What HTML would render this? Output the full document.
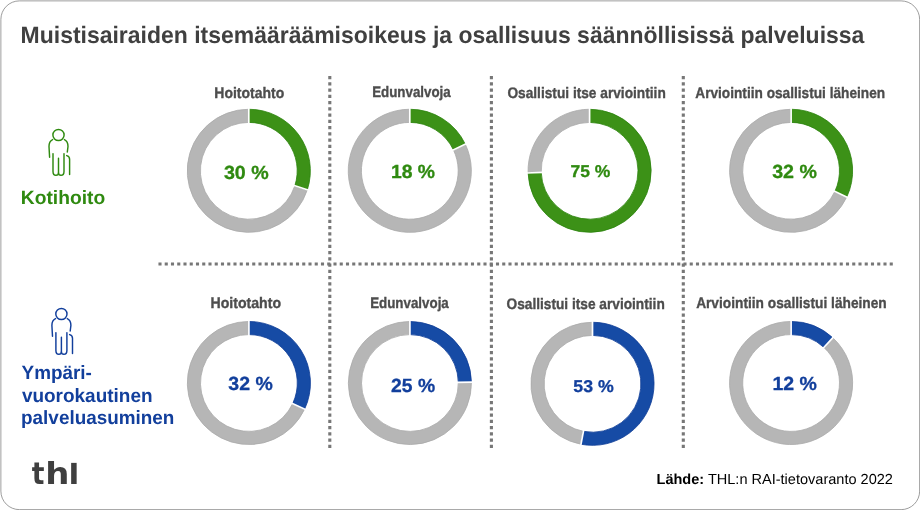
<!DOCTYPE html>
<html lang="fi"><head><meta charset="utf-8"><title>Muistisairaiden itsemääräämisoikeus ja osallisuus</title>
<style>
html,body{margin:0;padding:0;background:#fff;}
body{width:920px;height:510px;overflow:hidden;position:relative;}
svg{display:block;position:absolute;left:0;top:0;}
text{font-family:"Liberation Sans",sans-serif;text-rendering:geometricPrecision;}
</style></head><body>
<svg width="920" height="510" viewBox="0 0 920 510">
<rect x="0" y="0" width="920" height="510" fill="#fff"/>
<rect x="0.885" y="0.885" width="918.74" height="508.74" rx="18.5" ry="18.5" fill="#fff" stroke="#808080" stroke-width="0.77"/>

<text id="title" x="20.61" y="42.8" font-size="23.7" fill="#404040" font-weight="bold" textLength="843.74" lengthAdjust="spacingAndGlyphs">Muistisairaiden itsemääräämisoikeus ja osallisuus säännöllisissä palveluissa</text>
<path d="M329.8,76.1V448.5" stroke="#777" stroke-width="3.1" stroke-dasharray="3.1 3.15" fill="none"/>
<path d="M491.4,76.1V448.5" stroke="#777" stroke-width="3.1" stroke-dasharray="3.1 3.15" fill="none"/>
<path d="M683.3,76.1V448.5" stroke="#777" stroke-width="3.1" stroke-dasharray="3.1 3.15" fill="none"/>
<path d="M158.45,264H893" stroke="#777" stroke-width="3.1" stroke-dasharray="3.1 3.15" fill="none"/>
<path d="M307.34,189.82A61.55,61.55 0 1 1 248.80,109.25L248.80,122.40A48.4,48.4 0 1 0 294.83,185.76Z" fill="#b6b6b6" stroke="#aaaaaa" stroke-width="0.8"/><path d="M248.80,109.25A61.55,61.55 0 0 1 307.34,189.82L294.83,185.76A48.4,48.4 0 0 0 248.80,122.40Z" fill="#3c9117" stroke="#29830b" stroke-width="0.8"/><path d="M248.80,123.90L248.80,107.75M293.40,185.29L308.76,190.28" stroke="#fff" stroke-width="1.7" fill="none"/>
<path d="M465.33,144.24A61.55,61.55 0 1 1 409.80,109.25L409.80,122.40A48.4,48.4 0 1 0 453.46,149.92Z" fill="#b6b6b6" stroke="#aaaaaa" stroke-width="0.8"/><path d="M409.80,109.25A61.55,61.55 0 0 1 465.33,144.24L453.46,149.92A48.4,48.4 0 0 0 409.80,122.40Z" fill="#3c9117" stroke="#29830b" stroke-width="0.8"/><path d="M409.80,123.90L409.80,107.75M452.11,150.56L466.68,143.60" stroke="#fff" stroke-width="1.7" fill="none"/>
<path d="M528.09,172.93A61.55,61.55 0 0 1 589.60,109.25L589.60,122.40A48.4,48.4 0 0 0 541.23,172.47Z" fill="#b6b6b6" stroke="#aaaaaa" stroke-width="0.8"/><path d="M589.60,109.25A61.55,61.55 0 1 1 528.09,172.93L541.23,172.47A48.4,48.4 0 1 0 589.60,122.40Z" fill="#3c9117" stroke="#29830b" stroke-width="0.8"/><path d="M589.60,123.90L589.60,107.75M542.73,172.42L526.59,172.98" stroke="#fff" stroke-width="1.7" fill="none"/>
<path d="M846.79,197.01A61.55,61.55 0 1 1 791.10,109.25L791.10,122.40A48.4,48.4 0 1 0 834.89,191.41Z" fill="#b6b6b6" stroke="#aaaaaa" stroke-width="0.8"/><path d="M791.10,109.25A61.55,61.55 0 0 1 846.79,197.01L834.89,191.41A48.4,48.4 0 0 0 791.10,122.40Z" fill="#3c9117" stroke="#29830b" stroke-width="0.8"/><path d="M791.10,123.90L791.10,107.75M833.54,190.77L848.15,197.65" stroke="#fff" stroke-width="1.7" fill="none"/>
<path d="M304.59,409.21A61.55,61.55 0 1 1 248.90,321.45L248.90,334.60A48.4,48.4 0 1 0 292.69,403.61Z" fill="#b6b6b6" stroke="#aaaaaa" stroke-width="0.8"/><path d="M248.90,321.45A61.55,61.55 0 0 1 304.59,409.21L292.69,403.61A48.4,48.4 0 0 0 248.90,334.60Z" fill="#164ba5" stroke="#0c3b96" stroke-width="0.8"/><path d="M248.90,336.10L248.90,319.95M291.34,402.97L305.95,409.85" stroke="#fff" stroke-width="1.7" fill="none"/>
<path d="M471.45,382.23A61.55,61.55 0 1 1 409.90,321.45L409.90,334.60A48.4,48.4 0 1 0 458.30,382.39Z" fill="#b6b6b6" stroke="#aaaaaa" stroke-width="0.8"/><path d="M409.90,321.45A61.55,61.55 0 0 1 471.45,382.23L458.30,382.39A48.4,48.4 0 0 0 409.90,334.60Z" fill="#164ba5" stroke="#0c3b96" stroke-width="0.8"/><path d="M409.90,336.10L409.90,319.95M456.80,382.41L472.95,382.21" stroke="#fff" stroke-width="1.7" fill="none"/>
<path d="M580.97,444.26A61.55,61.55 0 0 1 592.50,322.25L592.50,335.40A48.4,48.4 0 0 0 583.43,431.34Z" fill="#b6b6b6" stroke="#aaaaaa" stroke-width="0.8"/><path d="M592.50,322.25A61.55,61.55 0 1 1 580.97,444.26L583.43,431.34A48.4,48.4 0 1 0 592.50,335.40Z" fill="#164ba5" stroke="#0c3b96" stroke-width="0.8"/><path d="M592.50,336.90L592.50,320.75M583.71,429.87L580.69,445.73" stroke="#fff" stroke-width="1.7" fill="none"/>
<path d="M832.81,337.74A61.55,61.55 0 1 1 791.10,321.45L791.10,334.60A48.4,48.4 0 1 0 823.90,347.41Z" fill="#b6b6b6" stroke="#aaaaaa" stroke-width="0.8"/><path d="M791.10,321.45A61.55,61.55 0 0 1 832.81,337.74L823.90,347.41A48.4,48.4 0 0 0 791.10,334.60Z" fill="#164ba5" stroke="#0c3b96" stroke-width="0.8"/><path d="M791.10,336.10L791.10,319.95M822.88,348.51L833.83,336.63" stroke="#fff" stroke-width="1.7" fill="none"/>
<text id="l1" x="214.33" y="98.2" font-size="15.2" fill="#4d4d4d" font-weight="bold" textLength="69.85" lengthAdjust="spacingAndGlyphs" stroke="#4d4d4d" stroke-width="0.35">Hoitotahto</text>
<text id="l2" x="372.16" y="97.3" font-size="15.2" fill="#4d4d4d" font-weight="bold" textLength="78.57" lengthAdjust="spacingAndGlyphs" stroke="#4d4d4d" stroke-width="0.35">Edunvalvoja</text>
<text id="l3" x="507.42" y="97.7" font-size="15.2" fill="#4d4d4d" font-weight="bold" textLength="158.35" lengthAdjust="spacingAndGlyphs" stroke="#4d4d4d" stroke-width="0.35">Osallistui itse arviointiin</text>
<text id="l4" x="695.29" y="98.2" font-size="15.2" fill="#4d4d4d" font-weight="bold" textLength="189.80" lengthAdjust="spacingAndGlyphs" stroke="#4d4d4d" stroke-width="0.35">Arviointiin osallistui läheinen</text>
<text id="l5" x="210.48" y="308.3" font-size="15.2" fill="#4d4d4d" font-weight="bold" textLength="70.57" lengthAdjust="spacingAndGlyphs" stroke="#4d4d4d" stroke-width="0.35">Hoitotahto</text>
<text id="l6" x="370.17" y="308.4" font-size="15.2" fill="#4d4d4d" font-weight="bold" textLength="78.61" lengthAdjust="spacingAndGlyphs" stroke="#4d4d4d" stroke-width="0.35">Edunvalvoja</text>
<text id="l7" x="506.50" y="308.9" font-size="15.2" fill="#4d4d4d" font-weight="bold" textLength="158.26" lengthAdjust="spacingAndGlyphs" stroke="#4d4d4d" stroke-width="0.35">Osallistui itse arviointiin</text>
<text id="l8" x="696.14" y="307.8" font-size="15.2" fill="#4d4d4d" font-weight="bold" textLength="190.61" lengthAdjust="spacingAndGlyphs" stroke="#4d4d4d" stroke-width="0.35">Arviointiin osallistui läheinen</text>
<text id="p1" x="223.91" y="179.2" font-size="19.0" fill="#2f8a10" font-weight="bold" textLength="44.73" lengthAdjust="spacingAndGlyphs" stroke="#2f8a10" stroke-width="0.3">30 %</text>
<text id="p2" x="390.90" y="178.1" font-size="19.0" fill="#2f8a10" font-weight="bold" textLength="44.06" lengthAdjust="spacingAndGlyphs" stroke="#2f8a10" stroke-width="0.3">18 %</text>
<text id="p3" x="570.46" y="177.2" font-size="17.1" fill="#2f8a10" font-weight="bold" textLength="39.82" lengthAdjust="spacingAndGlyphs" stroke="#2f8a10" stroke-width="0.3">75 %</text>
<text id="p4" x="772.19" y="178.1" font-size="19.0" fill="#2f8a10" font-weight="bold" textLength="44.74" lengthAdjust="spacingAndGlyphs" stroke="#2f8a10" stroke-width="0.3">32 %</text>
<text id="p5" x="228.38" y="390.1" font-size="19.0" fill="#123f9c" font-weight="bold" textLength="44.38" lengthAdjust="spacingAndGlyphs" stroke="#123f9c" stroke-width="0.3">32 %</text>
<text id="p6" x="391.08" y="391.9" font-size="19.0" fill="#123f9c" font-weight="bold" textLength="44.05" lengthAdjust="spacingAndGlyphs" stroke="#123f9c" stroke-width="0.3">25 %</text>
<text id="p7" x="573.32" y="392.0" font-size="17.1" fill="#123f9c" font-weight="bold" textLength="40.37" lengthAdjust="spacingAndGlyphs" stroke="#123f9c" stroke-width="0.3">53 %</text>
<text id="p8" x="772.47" y="390.1" font-size="19.0" fill="#123f9c" font-weight="bold" textLength="44.44" lengthAdjust="spacingAndGlyphs" stroke="#123f9c" stroke-width="0.3">12 %</text>
<text id="r1" x="20.82" y="204.1" font-size="19.2" fill="#2f8a10" font-weight="bold" textLength="84.38" lengthAdjust="spacingAndGlyphs">Kotihoito</text>
<text id="r2" x="21.56" y="379.3" font-size="19.2" fill="#123f9c" font-weight="bold" textLength="70.34" lengthAdjust="spacingAndGlyphs">Ympäri-</text>
<text id="r3" x="21.90" y="401.8" font-size="19.2" fill="#123f9c" font-weight="bold" textLength="130.63" lengthAdjust="spacingAndGlyphs">vuorokautinen</text>
<text id="r4" x="21.09" y="424.3" font-size="19.2" fill="#123f9c" font-weight="bold" textLength="153.28" lengthAdjust="spacingAndGlyphs">palveluasuminen</text>
<g transform="translate(0.0,0.0)" fill="none" stroke="#2f8a10" stroke-width="1.45" stroke-linecap="round" stroke-linejoin="round"><circle cx="58.5" cy="135" r="5.6"/><path d="M52.6,139.6C50,140.8 49,143.5 49,146.5L49.6,157.3"/><path d="M64.4,139.6C67,140.8 68,143.5 68,146.5L67.3,152"/><path d="M53,153.6V171.5C53,174 54.3,175.3 56,175.3C57.6,175.3 58.5,174.4 58.5,173V158.2"/><path d="M58.5,173C58.5,174.4 59.4,175.3 61,175.3C62.7,175.3 64,174 64,171.5V153.6"/><path d="M66.7,155.6C68.6,156 69.6,157.3 69.6,159.3V174.6"/></g>
<g transform="translate(2.9,179.0)" fill="none" stroke="#123f9c" stroke-width="1.45" stroke-linecap="round" stroke-linejoin="round"><circle cx="58.5" cy="135" r="5.6"/><path d="M52.6,139.6C50,140.8 49,143.5 49,146.5L49.6,157.3"/><path d="M64.4,139.6C67,140.8 68,143.5 68,146.5L67.3,152"/><path d="M53,153.6V171.5C53,174 54.3,175.3 56,175.3C57.6,175.3 58.5,174.4 58.5,173V158.2"/><path d="M58.5,173C58.5,174.4 59.4,175.3 61,175.3C62.7,175.3 64,174 64,171.5V153.6"/><path d="M66.7,155.6C68.6,156 69.6,157.3 69.6,159.3V174.6"/></g>
<text id="logo" y="484" font-weight="bold" fill="#3f3f3f" style="font-family:'DejaVu Sans',sans-serif"><tspan x="31.73" font-size="30.6" textLength="12.7" lengthAdjust="spacingAndGlyphs">t</tspan><tspan x="45.3" font-size="30.3" textLength="24.2" lengthAdjust="spacingAndGlyphs">h</tspan><tspan x="68.5" font-size="27.8" textLength="10.8" lengthAdjust="spacingAndGlyphs">l</tspan></text>
<text id="src" x="656.5" y="483.8" font-size="14.54" fill="#000"><tspan font-weight="bold">Lähde:</tspan> THL:n RAI-tietovaranto 2022</text>
</svg></body></html>
